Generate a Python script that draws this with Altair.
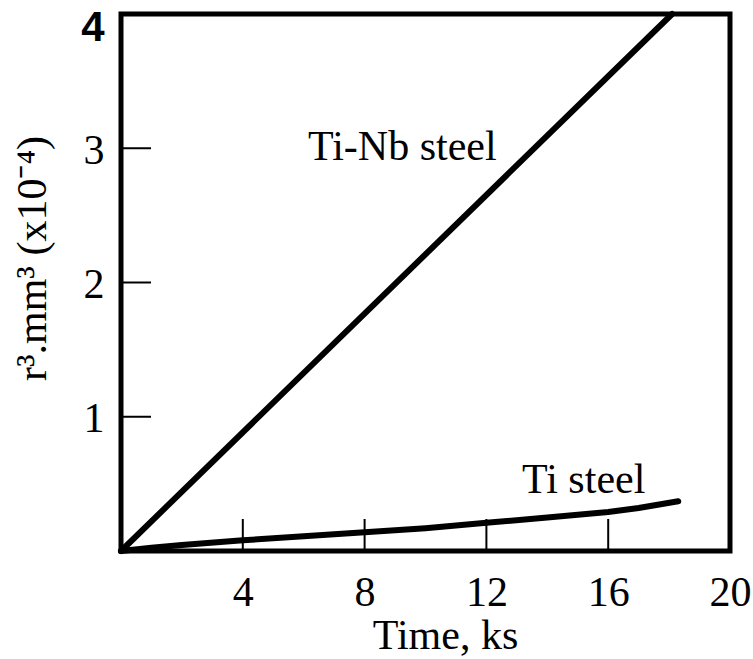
import altair as alt
import pandas as pd

# Ti-Nb steel: straight-line growth of r^3 with time
tinb_time = [0.0, 18.1]
tinb_r3 = [0.0, 4.0]

# Ti steel: slow, slightly accelerating growth
ti_time = [0.0, 1.0, 2.0, 4.0, 6.0, 8.0, 10.0, 12.0, 14.0, 16.0, 17.0, 18.3]
ti_r3 = [0.0, 0.025, 0.045, 0.08, 0.11, 0.14, 0.17, 0.21, 0.25, 0.29, 0.32, 0.37]

# Tick values
x_ticks = [4, 8, 12, 16, 20]
y_ticks = [1, 2, 3, 4]
x_inner_ticks = [4, 8, 12, 16]
y_inner_ticks = [1, 2, 3]

# Curve labels
label_text = ["Ti-Nb steel", "Ti steel"]
label_time = [6.14, 13.17]
label_r3 = [2.91, 0.43]

W, H = 609, 537
FONT = "Liberation Serif"
FS = 42

lines = pd.DataFrame(
    {"time": tinb_time + ti_time,
     "r3": tinb_r3 + ti_r3,
     "steel": ["Ti-Nb steel"] * len(tinb_time) + ["Ti steel"] * len(ti_time)}
)
labels = pd.DataFrame({"text": label_text, "time": label_time, "r3": label_r3})
xt = pd.DataFrame({"time": x_inner_ticks})
yt = pd.DataFrame({"r3": y_inner_ticks})

x_scale = alt.Scale(domain=[0, 20], nice=False, zero=True)
y_scale = alt.Scale(domain=[0, 4], nice=False, zero=True)

top_label = "datum.value == 4"

x_axis = alt.Axis(
    values=x_ticks, format="d", title="Time, ks", grid=False, domain=False, ticks=False, tickSize=0,
    labelFont=FONT, labelFontSize=FS, labelColor="black", labelPadding=54,
    labelBaseline="alphabetic", labelFlush=False,
    titleFont=FONT, titleFontSize=FS, titleFontWeight="normal", titleColor="black",
    titleX=324, titleY=97, titleBaseline="alphabetic", titleAlign="center",
)
y_axis = alt.Axis(
    values=y_ticks, format="d", title="r³.mm³ (x10⁻⁴)", grid=False, domain=False, ticks=False, tickSize=0,
    labelFont={"condition": {"test": top_label, "value": "Liberation Sans"}, "value": FONT},
    labelFontWeight={"condition": {"test": top_label, "value": "bold"}, "value": "normal"},
    labelOffset={"condition": {"test": top_label, "value": 13}, "value": 2},
    labelFontSize=FS, labelColor="black", labelPadding=17, labelBaseline="middle", labelFlush=False,
    titleFont=FONT, titleFontSize=FS, titleFontWeight="normal", titleColor="black",
    titleX=-76, titleY=244, titleAngle=270, titleBaseline="alphabetic", titleAlign="center",
)

curves = alt.Chart(lines).mark_line(color="black", strokeWidth=6, strokeCap="round").encode(
    x=alt.X("time:Q", scale=x_scale, axis=x_axis),
    y=alt.Y("r3:Q", scale=y_scale, axis=y_axis),
    detail="steel:N",
)

x_tick_marks = alt.Chart(xt).mark_rule(color="black", strokeWidth=2).encode(
    x=alt.X("time:Q", scale=x_scale),
    y=alt.value(H),
    y2=alt.value(H - 32),
)
y_tick_marks = alt.Chart(yt).mark_rule(color="black", strokeWidth=2).encode(
    y=alt.Y("r3:Q", scale=y_scale),
    x=alt.value(0),
    x2=alt.value(30),
)

text = alt.Chart(labels).mark_text(
    font=FONT, fontSize=FS, align="left", baseline="alphabetic", color="black"
).encode(
    x=alt.X("time:Q", scale=x_scale),
    y=alt.Y("r3:Q", scale=y_scale),
    text="text:N",
)

chart = (
    alt.layer(x_tick_marks, y_tick_marks, curves, text)
    .properties(
        width=W, height=H,
        background="white",
        autosize=alt.AutoSizeParams(type="none"),
        padding={"left": 121, "top": 14, "right": 23, "bottom": 108},
    )
    .configure_view(stroke="black", strokeWidth=5)
)

chart.save("out.html", embed_options={"renderer": "svg", "actions": False})
